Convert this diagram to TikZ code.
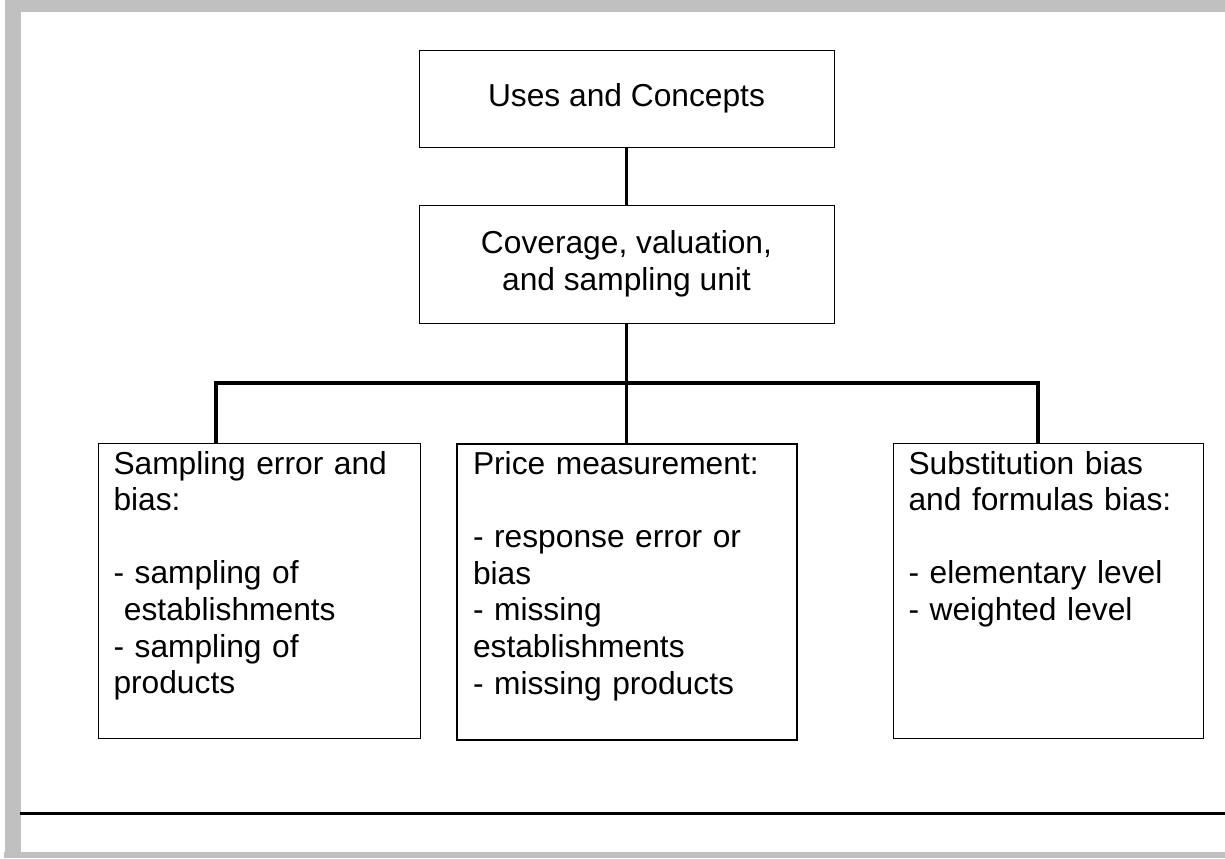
\documentclass[tikz,border=0pt]{standalone}
\usepackage{fontspec}
\setmainfont{Liberation Sans}
\definecolor{framegray}{RGB}{192,192,192}

\begin{document}
\begin{tikzpicture}[x=0.75pt, y=-0.75pt,
  every node/.style={font=\fontsize{23.8pt}{27.45pt}\selectfont},
  topbox/.style={draw, line width=0.75pt, minimum width=311.25pt, align=center, inner sep=0pt},
  leafbox/.style={draw, line width=0.75pt, anchor=north west, align=left, inner xsep=11.25pt, inner ysep=0pt, text height=22.9pt},
  link/.style={line width=2.7pt}]

% Draw the page frame
\useasboundingbox (0,0) rectangle (1225,858);
\fill[white] (0,0) rectangle (1225,858);
\fill[framegray] (5,0) rectangle (21,858);
\fill[framegray] (5,0) rectangle (1225,12);
\fill[framegray] (4,852) rectangle (1225,858);
\draw[line width=2.2pt] (20,813.5) -- (1225,813.5);

% draw the boxes:
\node[topbox, minimum height=72.75pt] (uses) at (626.5,98.5) {Uses and Concepts};
\node[topbox, minimum height=88.5pt] (cov) at (626.5,264) {Coverage, valuation,\\and sampling unit};
\node[leafbox, text width=219pt, text depth=198.35pt] (sampling) at (98,443) {Sampling error and\\
  bias:\\[27.45pt]
  - sampling of\\
  \hspace*{0.33em}establishments\\
  - sampling of\\
  products};
\node[leafbox, line width=1.5pt, inner xsep=12pt, text width=231pt, text depth=199.1pt] (price) at (456,443) {Price measurement:\\[27.45pt]
  - response error or\\
  bias\\
  - missing\\
  establishments\\
  - missing products};
\node[leafbox, text width=210pt, text depth=198.35pt] (subst) at (893,443) {Substitution bias\\
  and formulas bias:\\[27.45pt]
  - elementary level\\
  - weighted level};

% the connectors:
\coordinate (busL) at (216,383);
\coordinate (busR) at (1038,383);
\draw[link] (uses) -- (cov);
\draw[link] (cov.south) -- (cov.south |- price.north);
\draw[link] (sampling.north -| busL) -- (busL) -- (busR) -- (subst.north -| busR);
\end{tikzpicture}
\end{document}
